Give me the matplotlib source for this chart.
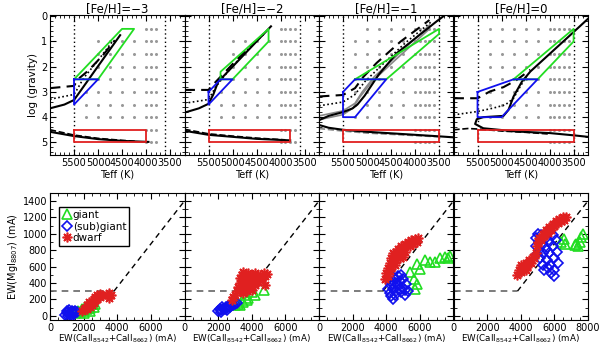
import matplotlib.pyplot as plt
from matplotlib.ticker import MultipleLocator

titles = ['[Fe/H]=\u22123', '[Fe/H]=\u22122', '[Fe/H]=\u22121', '[Fe/H]=0']

# model atmosphere grid (gray dots)
grid_logg = [0.5, 1.0, 1.5, 2.0, 2.5, 3.0, 3.5, 4.0, 4.5, 5.0]
grid_teff = [5250, 5000, 4750, 4500, 4250, 4000, 3900, 3800, 3700, 3600]
grid_warm = [[4000, 5000, 5000, 5000, 5000, 5250, 5250, 5250, 4000, 4000],
             [4000, 5000, 5000, 5000, 5000, 5250, 5250, 5250, 4000, 4000],
             [5000, 5250, 5250, 5250, 5250, 5250, 5250, 5250, 4000, 4000],
             [5250, 5250, 5250, 5250, 5250, 5250, 5250, 5250, 4000, 4000]]
grid_cool = [3800, 3700, 3600, 3600]
dotted_teff = [(5500, 3600), (5500, 3600), (5500, 3500), (5500, 3500)]

# selection boxes (Teff, logg)
green_boxes = [[(5500, 2.5), (4500, 0.5), (4250, 0.5), (5000, 2.5)],
               [(5250, 2.5), (5250, 2.2), (4250, 0.5), (4250, 1.0), (5000, 2.5)],
               [(5250, 2.5), (3500, 0.5), (3500, 0.7), (4600, 2.5)],
               [(4750, 2.5), (3500, 0.5), (3500, 1.0), (4250, 2.5)]]
blue_boxes = [[(5500, 2.5), (5000, 2.5), (5500, 3.5)],
              [(5500, 3.0), (5250, 2.5), (5000, 2.5), (5500, 3.5)],
              [(5500, 3.0), (5250, 2.5), (4600, 2.5), (5250, 4.0), (5500, 4.0)],
              [(5500, 3.0), (4750, 2.5), (4250, 2.5), (5000, 4.0), (5500, 4.0)]]
red_cool = [4000, 3800, 3500, 3500]

# isochrones (Teff, logg)
solid_iso = [
    [(3950, 4.98), (4100, 4.97), (4500, 4.94), (5000, 4.87), (5500, 4.75), (6000, 4.58), (6300, 4.35),
     (6400, 4.0), (6300, 3.8), (6000, 3.65), (5700, 3.5), (5500, 3.32), (5000, 1.98), (4540, 0.75)],
    [(3800, 4.92), (4500, 4.86), (5000, 4.78), (5500, 4.7), (6000, 4.54), (6300, 4.3), (6400, 4.1),
     (6300, 3.95), (6000, 3.82), (5700, 3.65), (5500, 3.47), (5400, 3.1), (5300, 2.6), (4750, 1.5), (4200, 0.4)],
    [(3200, 4.8), (3500, 4.76), (4000, 4.7), (4500, 4.64), (5000, 4.58), (5500, 4.5), (5800, 4.42),
     (6050, 4.28), (6000, 4.12), (5800, 3.95), (5500, 3.8), (5300, 3.65), (5200, 3.5), (5050, 3.15),
     (4760, 2.32), (4380, 1.46), (3550, 0.2), (3200, -0.3)],
    [(3200, 4.78), (3500, 4.72), (4000, 4.63), (4680, 4.57), (5380, 4.44), (5550, 4.27), (5515, 4.08),
     (5380, 4.0), (4960, 3.95), (4855, 3.71), (4750, 3.18), (4575, 2.59), (4400, 2.19), (3600, 0.8), (3200, 0.1)]]
dashed_iso = [
    [(6000, 2.85), (5500, 2.76), (5420, 2.5), (5200, 2.15), (4900, 1.55), (4650, 0.95)],
    [(6000, 2.92), (5500, 2.92), (5350, 2.6), (5200, 2.3), (4800, 1.5), (4350, 0.7)],
    [(6000, 3.18), (5500, 3.12), (5250, 2.85), (5075, 2.4), (4800, 1.85), (4300, 1.0), (3700, 0.15)],
    [(6000, 3.25), (5500, 3.25), (5240, 2.98), (4960, 2.81), (4680, 2.52), (4400, 2.12)]]
dotted_iso = [
    [(6000, 3.29), (5500, 3.1), (5420, 2.85), (5300, 2.45), (5000, 1.75), (4700, 1.0)],
    [(6000, 3.45), (5500, 3.3), (5350, 2.8), (5100, 2.2), (4700, 1.35), (4350, 0.7)],
    [(6000, 3.55), (5500, 3.4), (5250, 3.1), (5050, 2.6), (4700, 1.95), (4200, 1.05), (3650, 0.2)],
    [(6000, 3.91), (5515, 3.78), (5170, 3.64), (4920, 3.51), (4750, 3.25), (4610, 2.78), (4450, 2.3)]]
dashed_ms = [
    [(6000, 4.5), (5500, 4.71), (5000, 4.84), (4500, 4.92), (4200, 4.96)],
    [(6000, 4.48), (5500, 4.66), (5000, 4.75), (4500, 4.83), (3900, 4.9)],
    [(6000, 4.45), (5500, 4.55), (5000, 4.63), (4500, 4.68), (4000, 4.73), (3500, 4.78)],
    [(6000, 4.5), (5700, 4.45), (5500, 4.47), (5000, 4.55), (4500, 4.6), (4000, 4.67)]]
gray_iso_m1 = [[(6000, 3.95), (5500, 3.75), (5250, 3.45), (5100, 3.0), (4850, 2.4), (4400, 1.6), (3700, 0.35)],
               [(6000, 4.1), (5500, 3.9), (5300, 3.65), (5150, 3.2), (4900, 2.6), (4450, 1.8), (3700, 0.5)]]

# equivalent widths (mA): CaII sum vs MgI
giant_ca = [[1500, 1650, 1800, 1900, 2000, 2100, 2200, 2300, 2400, 2500, 2600, 2700, 2050, 2350],
            [3000, 3200, 3300, 3500, 3700, 3800, 4000, 4200, 4700, 3600],
            [5630, 5430, 5810, 5710, 5810, 6000, 6300, 6600, 6900, 7200, 7480, 7680, 7800],
            [6400, 6600, 6650, 7200, 7300, 7500, 7600, 7700, 7400]]
giant_mg = [[30, 60, 50, 90, 70, 110, 80, 120, 100, 140, 110, 150, 40, 60],
            [130, 150, 130, 170, 190, 220, 290, 260, 310, 250],
            [450, 535, 635, 330, 393, 574, 675, 660, 655, 700, 720, 710, 730],
            [900, 940, 870, 860, 880, 900, 960, 1000, 850]]
sub_ca = [[900, 1000, 1050, 1100, 1150, 1200, 1250, 1300, 1350, 1400, 1450, 1500, 1000, 1150, 1300, 1450, 1600],
          [2000, 2100, 2150, 2200, 2300, 2400, 2450, 2500, 2600, 2700, 2800, 2900, 3000, 3100, 2250, 2550],
          [4100, 4200, 4300, 4400, 4500, 4600, 4400, 4300, 4200, 4500, 4600, 4700, 4800, 4900, 5000, 5100,
           5200, 5000, 4900, 4700, 4400, 4800, 5300, 5100],
          [4900, 4900, 4950, 5000, 5100, 5100, 5150, 5200, 5300, 5300, 5350, 5400, 5500, 5500, 5550, 5600,
           5700, 5700, 5750, 5800, 5900, 5900, 5950, 6000, 6000, 6100, 6150, 6200]]
sub_mg = [[10, 30, 0, 50, 20, 40, 10, 60, 30, 50, 20, 60, 60, 70, 0, 40, 50],
          [60, 80, 50, 70, 90, 80, 110, 100, 120, 110, 140, 130, 150, 160, 110, 70],
          [330, 280, 240, 210, 260, 300, 330, 380, 420, 400, 450, 380, 330, 290, 340, 320,
           390, 450, 500, 480, 470, 420, 300, 250],
          [950, 850, 750, 1000, 900, 800, 700, 980, 880, 760, 620, 560, 950, 820, 680, 580,
           900, 760, 620, 520, 980, 850, 700, 560, 480, 920, 780, 640]]
dwarf_ca = [[1900, 2000, 2100, 2200, 2200, 2300, 2400, 2400, 2500, 2600, 2600, 2700, 2700, 2800, 2800,
             2900, 3000, 3000, 3100, 3400, 3500, 3500, 3600, 2300, 2500],
            [2800, 2900, 3000, 3100, 3200, 3300, 3300, 3400, 3500, 3400, 3500, 3600, 3600, 3700, 3700, 3800,
             3900, 4000, 4000, 4100, 4200, 4200, 4300, 4400, 4500, 4600, 4700, 4800, 4900, 4800, 3800, 3500, 3900],
            [3950, 4000, 4100, 4100, 4200, 4200, 4300, 4300, 4400, 4500, 4500, 4600, 4600, 4700, 4800, 4800,
             4900, 4900, 5000, 5100, 5100, 5200, 5300, 5400, 5500, 5600, 5700, 5800, 5900, 4400, 4700, 5000],
            [3800, 3900, 4000, 4100, 4200, 4300, 4400, 4500, 4600, 4700, 4800, 4900, 4950, 5000, 5100, 5200,
             5300, 5400, 5500, 5600, 5700, 5800, 5900, 6000, 6100, 6200, 6300, 6400, 6500, 6600, 6700, 4000, 4300]]
dwarf_mg = [[60, 90, 100, 80, 130, 120, 150, 110, 170, 160, 200, 190, 230, 210, 250,
             240, 230, 270, 250, 250, 220, 280, 260, 170, 130],
            [190, 230, 260, 300, 350, 400, 460, 500, 530, 330, 400, 460, 350, 300, 500, 420,
             360, 480, 320, 430, 380, 520, 470, 410, 500, 450, 520, 480, 510, 380, 520, 280, 460],
            [450, 520, 480, 580, 550, 640, 600, 700, 650, 720, 620, 780, 680, 740, 800, 700,
             850, 760, 830, 880, 780, 860, 900, 850, 920, 880, 940, 900, 950, 760, 820, 720],
            [500, 560, 530, 600, 570, 640, 610, 680, 650, 720, 700, 760, 850, 900, 950, 920,
             1000, 970, 1040, 1010, 1080, 1050, 1120, 1100, 1160, 1130, 1180, 1150, 1200, 1170, 1200, 620, 560]]

GREEN, BLUE, RED = '#22dd22', '#1010ee', '#e02020'

fig = plt.figure(figsize=(6, 3.45), dpi=100)
W = 134.5 / 600
for k in range(4):
    left = (50 + 134.5 * k) / 600
    ax = fig.add_axes([left, (345 - 155) / 345, W, 140 / 345])
    # grid points
    gx, gy = [], []
    for j, g in enumerate(grid_logg):
        for t in grid_teff:
            if grid_cool[k] <= t <= grid_warm[k][j]:
                gx.append(t); gy.append(g)
    ax.plot(gx, gy, 'o', color='#999999', ms=2.2, mec='none')
    for t in dotted_teff[k]:
        ax.axvline(t, color='k', ls=(0, (1, 2)), lw=1.0)
    if k == 2:
        for line in gray_iso_m1:
            ax.plot(*zip(*line), color='#888888', lw=1.2)
        ax.plot(*zip(*dashed_ms[k]), color='#888888', lw=1.2, ls='--')
    else:
        ax.plot(*zip(*dashed_ms[k]), color='k', lw=1.2, ls='--')
    ax.plot(*zip(*solid_iso[k]), color='k', lw=1.5)
    ax.plot(*zip(*dashed_iso[k]), color='k', lw=1.5, ls=(0, (5, 3)))
    ax.plot(*zip(*dotted_iso[k]), color='k', lw=1.2, ls=(0, (1, 1.5)))
    for box, c in ((green_boxes[k], GREEN), (blue_boxes[k], BLUE)):
        pts = box + [box[0]]
        ax.plot(*zip(*pts), color=c, lw=1.3)
    ax.plot([5500, red_cool[k], red_cool[k], 5500, 5500], [4.5, 4.5, 5.0, 5.0, 4.5], color=RED, lw=1.3)
    ax.set_xlim(6000, 3200)
    ax.set_ylim(5.5, -0.05)
    ax.set_xticks([5500, 5000, 4500, 4000, 3500])
    ax.xaxis.set_minor_locator(MultipleLocator(100))
    ax.yaxis.set_minor_locator(MultipleLocator(0.2))
    ax.tick_params(which='both', direction='in', top=True, right=True, labelsize=7, pad=2)
    ax.tick_params(which='major', length=4)
    ax.tick_params(which='minor', length=2)
    ax.set_title(titles[k], fontsize=8.5, pad=2)
    ax.set_xlabel('Teff (K)', fontsize=7, labelpad=1)
    if k == 0:
        ax.set_ylabel('log (gravity)', fontsize=7.5, labelpad=2)
    else:
        ax.set_yticklabels([])

    # bottom row
    bx = fig.add_axes([left, (345 - 320) / 345, W, 127.3 / 345])
    bx.plot([0, 3800], [300, 300], color='#666666', lw=1.2, ls=(0, (4, 3)))
    bx.plot([3800, 8000], [300, 1400], color='k', lw=1.0, ls=(0, (4, 3)))
    bx.plot(giant_ca[k], giant_mg[k], '^', ms=7, mfc='none', mec=GREEN, mew=1.2, label='giant')
    bx.plot(sub_ca[k], sub_mg[k], 'D', ms=5, mfc='none', mec=BLUE, mew=1.2, label='(sub)giant')
    bx.plot(dwarf_ca[k], dwarf_mg[k], marker=(8, 2, 0), ls='none', ms=7, mec=RED, mfc=RED, mew=1.2, label='dwarf')
    bx.set_xlim(0, 8000)
    bx.set_ylim(-50, 1500)
    bx.set_xticks([0, 2000, 4000, 6000, 8000] if k == 3 else [0, 2000, 4000, 6000])
    bx.set_yticks(range(0, 1401, 200))
    bx.xaxis.set_minor_locator(MultipleLocator(500))
    bx.yaxis.set_minor_locator(MultipleLocator(100))
    bx.tick_params(which='both', direction='in', top=True, right=True, labelsize=7, pad=2)
    bx.tick_params(which='major', length=4)
    bx.tick_params(which='minor', length=2)
    bx.set_xlabel('EW(CaII$_{8542}$+CaII$_{8662}$) (mA)', fontsize=6.3, labelpad=-0.5)
    if k == 0:
        bx.set_ylabel('EW(MgI$_{8807}$) (mA)', fontsize=7, labelpad=2)
        bx.legend(loc='upper left', fontsize=7.5, handlelength=0.8, handletextpad=0.2,
                  borderpad=0.3, labelspacing=0.15, fancybox=False, edgecolor='k',
                  framealpha=1, bbox_to_anchor=(0.03, 0.93))
    else:
        bx.set_yticklabels([])

fig.savefig('out.png', dpi=100)
